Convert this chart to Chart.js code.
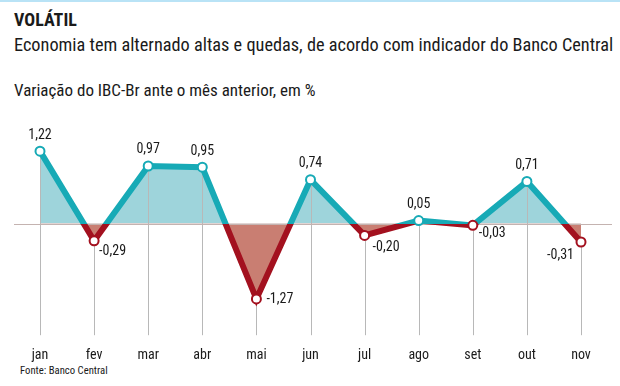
<!DOCTYPE html>
<html>
<head>
<meta charset="utf-8">
<script src="https://cdn.jsdelivr.net/npm/chart.js@4"></script>
<style>
  body { margin: 0; background: #fff; }
  #wrap { position: relative; width: 620px; height: 386px; border-top: 2px solid #b9e3f6; box-sizing: border-box; overflow: hidden; }
  #wrap div { position: absolute; left: 14px; color: #1a1a1a; font-family: "Roboto Condensed", "Open Sans", sans-serif; font-stretch: condensed; white-space: nowrap; }
  #title { top: 7px; font-size: 18px; font-weight: bold; }
  #sub { top: 32px; font-size: 18.3px; }
  #lab { top: 78px; font-size: 17px; }
  #src { top: 362px; left: 20px !important; font-size: 10.7px; }
  canvas { position: absolute; left: 0; top: -2px; }
</style>
</head>
<body>
<div id="wrap">
  <div id="title">VOLÁTIL</div>
  <div id="sub">Economia tem alternado altas e quedas, de acordo com indicador do Banco Central</div>
  <div id="lab">Variação do IBC-Br ante o mês anterior, em %</div>
  <div id="src">Fonte: Banco Central</div>
  <canvas id="chart" width="620" height="386"></canvas>
</div>
<script>
const months = ['jan', 'fev', 'mar', 'abr', 'mai', 'jun', 'jul', 'ago', 'set', 'out', 'nov'];
const ibcBr = [1.22, -0.29, 0.97, 0.95, -1.27, 0.74, -0.20, 0.05, -0.03, 0.71, -0.31];

// label placement for negative values: [dx, dy, align]
const negLabelPos = {
    1: [5, 11, 'left'],
    4: [10, 1, 'left'],
    6: [8, 12, 'left'],
    8: [6, 8, 'left'],
    10: [-7, 14, 'right']
};

const teal = '#17aab6';
const red = '#a3111f';
const font = '"Roboto Condensed", "Open Sans", sans-serif';

function lineGradient(context) {
    const chart = context.chart;
    const area = chart.chartArea;
    if (!area) return teal;
    const z = chart.scales.y.getPixelForValue(0);
    const stop = Math.min(1, Math.max(0, (z - area.top) / (area.bottom - area.top)));
    const g = chart.ctx.createLinearGradient(0, area.top, 0, area.bottom);
    g.addColorStop(0, teal);
    g.addColorStop(stop, teal);
    g.addColorStop(stop, red);
    g.addColorStop(1, red);
    return g;
}

const guides = {
    id: 'guides',
    beforeDatasetsDraw(chart) {
        const ctx = chart.ctx;
        const x = chart.scales.x, y = chart.scales.y;
        const bottom = chart.chartArea.bottom;
        ctx.save();
        ctx.strokeStyle = '#b8b8b8';
        ctx.lineWidth = 1;
        ibcBr.forEach((v, i) => {
            const px = Math.round(x.getPixelForValue(i)) + 0.5;
            ctx.beginPath();
            ctx.moveTo(px, y.getPixelForValue(v));
            ctx.lineTo(px, bottom);
            ctx.stroke();
        });
        const z = Math.round(y.getPixelForValue(0)) + 0.5;
        ctx.strokeStyle = '#c4b3b0';
        ctx.beginPath();
        ctx.moveTo(14, z);
        ctx.lineTo(612, z);
        ctx.stroke();
        ctx.restore();
    },
    afterDatasetsDraw(chart) {
        const ctx = chart.ctx;
        const x = chart.scales.x, y = chart.scales.y;
        ctx.save();
        ctx.fillStyle = '#1a1a1a';
        ctx.font = '14px ' + font;
        ibcBr.forEach((v, i) => {
            const px = x.getPixelForValue(i), py = y.getPixelForValue(v);
            const txt = v.toFixed(2).replace('.', ',');
            if (v >= 0) {
                ctx.textAlign = 'center';
                ctx.textBaseline = 'bottom';
                ctx.fillText(txt, px, py - 9);
            } else {
                const p = negLabelPos[i];
                ctx.textAlign = p[2];
                ctx.textBaseline = 'middle';
                ctx.fillText(txt, px + p[0], py + p[1]);
            }
        });
        ctx.restore();
    }
};

new Chart(document.getElementById('chart'), {
    type: 'line',
    data: {
        labels: months,
        datasets: [{
            data: ibcBr,
            borderColor: lineGradient,
            borderWidth: 6,
            tension: 0,
            fill: { target: 'origin', above: '#9ed4db', below: '#c97e72' },
            pointRadius: 4.5,
            pointBorderWidth: 2,
            pointBackgroundColor: '#fff',
            pointBorderColor: ctx => (ibcBr[ctx.dataIndex] >= 0 ? teal : red)
        }]
    },
    options: {
        responsive: false,
        animation: false,
        layout: { padding: { top: 109, left: 40, right: 39, bottom: 18 } },
        scales: {
            x: {
                offset: false,
                grid: { display: false },
                border: { display: false },
                ticks: { color: '#1a1a1a', padding: 4, font: { family: font, size: 14 } }
            },
            y: {
                display: false,
                min: -1.88,
                max: 1.93
            }
        },
        plugins: {
            legend: { display: false },
            tooltip: { enabled: false },
            filler: { drawTime: 'beforeDatasetsDraw' }
        }
    },
    plugins: [guides]
});
</script>
</body>
</html>
